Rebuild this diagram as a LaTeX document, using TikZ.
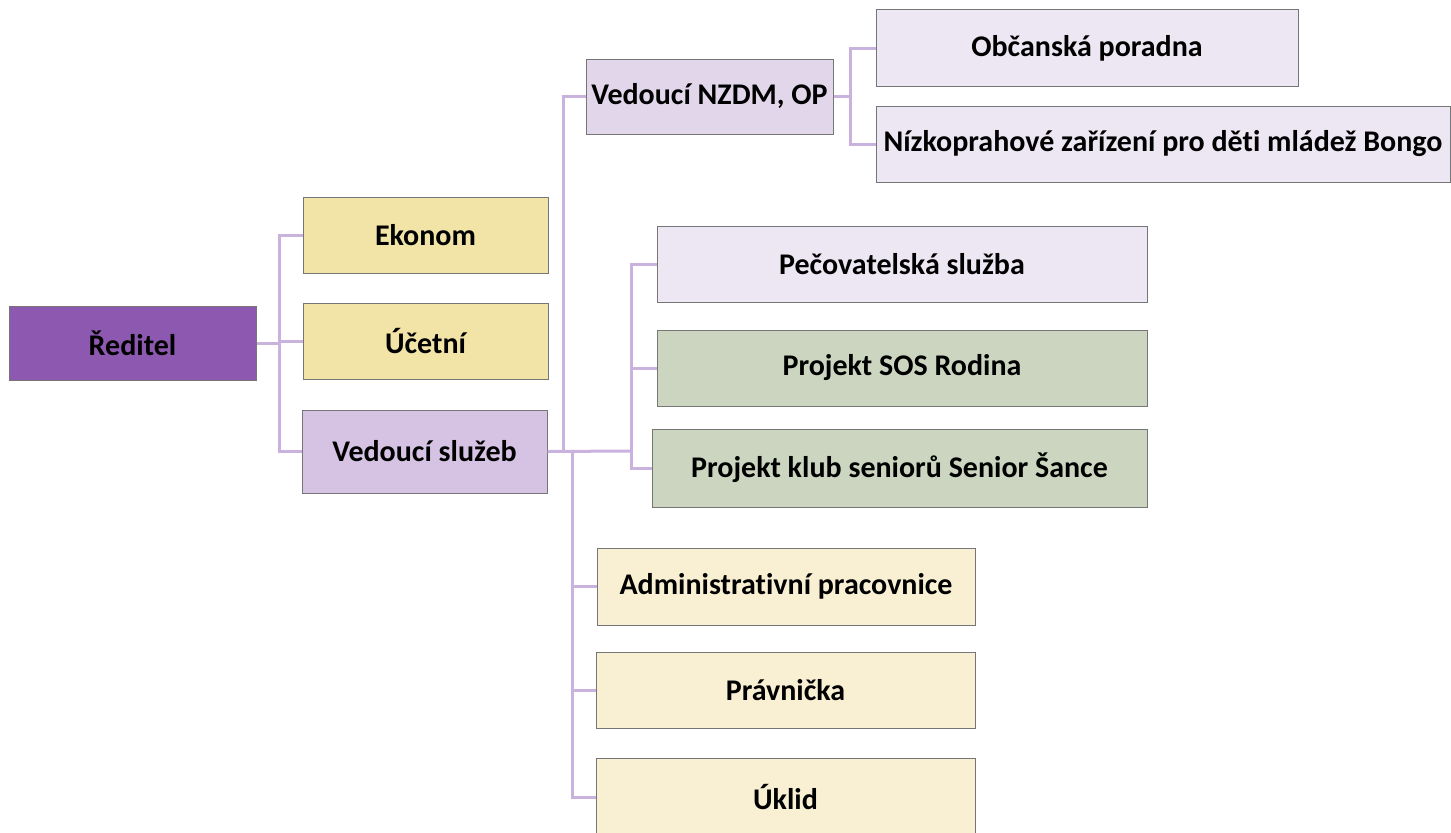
\documentclass[tikz,border=0pt]{standalone}
\usepackage{fontspec}
\setmainfont{Carlito}[Ligatures=NoCommon]

\tikzset{every picture/.style={line width=0.75pt}}
\tikzset{
  box/.style={draw={rgb, 255:red, 118; green, 118; blue, 118 }, line width=0.75pt, align=center, inner sep=0pt, font=\fontsize{22.5}{27}\selectfont\bfseries},
  link/.style={draw={rgb, 255:red, 202; green, 178; blue, 222 }, line width=2.25pt},
  std/.style={box, minimum width=183.75pt, minimum height=57pt}
}

\begin{document}
\begin{tikzpicture}[x=0.75pt,y=0.75pt,yscale=-1,xscale=1]
\useasboundingbox (0,0) rectangle (1451,832);

%Shape: Rectangle [id:reditel]
\node (dir) at (132.5,343) [box, minimum width=185.25pt, minimum height=55.5pt, fill={rgb, 255:red, 141; green, 88; blue, 176 }] {Ředitel};
%Shape: Rectangle [id:ekonom]
\node (ekon) at (425.5,235) [std, fill={rgb, 255:red, 242; green, 227; blue, 167 }] {Ekonom};
%Shape: Rectangle [id:ucetni]
\node (ucet) at (425.5,341) [std, fill={rgb, 255:red, 242; green, 227; blue, 167 }] {Účetní};
%Shape: Rectangle [id:vedsluzeb]
\node (vsl) at (424.5,451.5) [box, minimum width=183.75pt, minimum height=62.25pt, fill={rgb, 255:red, 214; green, 194; blue, 227 }] {Vedoucí služeb};

%Shape: Rectangle [id:nzdm]
\node (nzdm) at (709.5,96.5) [box, minimum width=185.25pt, minimum height=56.25pt, fill={rgb, 255:red, 226; green, 214; blue, 235 }] {Vedoucí NZDM, OP};
%Shape: Rectangle [id:obcan]
\node (obcan) at (1087,48) [box, minimum width=316.5pt, minimum height=57.75pt, fill={rgb, 255:red, 237; green, 231; blue, 243 }] {Občanská poradna};
%Shape: Rectangle [id:nizko]
\node (nizko) at (1163,144) [box, minimum width=430.5pt, minimum height=57pt, fill={rgb, 255:red, 237; green, 231; blue, 243 }] {Nízkoprahové zařízení pro děti mládež Bongo};

%Shape: Rectangle [id:pecov]
\node (pecov) at (902,264) [box, minimum width=367.5pt, minimum height=57pt, fill={rgb, 255:red, 237; green, 231; blue, 243 }] {Pečovatelská služba};
%Shape: Rectangle [id:sos]
\node (sos) at (902,368) [box, minimum width=367.5pt, minimum height=57pt, fill={rgb, 255:red, 203; green, 213; blue, 191 }] {Projekt SOS Rodina};
%Shape: Rectangle [id:senior]
\node (senior) at (899.5,468) [box, minimum width=371.25pt, minimum height=58.5pt, fill={rgb, 255:red, 203; green, 213; blue, 191 }] {Projekt klub seniorů Senior Šance};

%Shape: Rectangle [id:admin]
\node (admin) at (786,586.5) [box, minimum width=283.5pt, minimum height=57.75pt, fill={rgb, 255:red, 249; green, 240; blue, 211 }] {Administrativní pracovnice};
%Shape: Rectangle [id:pravn]
\node (pravn) at (785.5,690) [box, minimum width=284.25pt, minimum height=57pt, fill={rgb, 255:red, 249; green, 240; blue, 211 }] {Právnička};
%Shape: Rectangle [id:uklid]
\node (uklid) at (785.5,797) [box, minimum width=284.25pt, minimum height=57.75pt, fill={rgb, 255:red, 249; green, 240; blue, 211 }] {Úklid};

% Connectors
\coordinate (j1) at (279,343);
\coordinate (j2) at (563,451);
\coordinate (j3) at (572,451);
\coordinate (j4) at (631,451);
\coordinate (j5) at (850,96.5);

\draw [link] (dir.east) -- (j1);
\draw [link] (j1) |- (ekon.west);
\draw [link] (j1) |- (ucet.west);
\draw [link] (j1) |- (vsl.west);

\draw [link] (vsl.east) -- (j4);
\draw [link] (j2) |- (nzdm.west);
\draw [link] (j3) |- (admin.west);
\draw [link] (j3) |- (pravn.west);
\draw [link] (j3) |- (uklid.west);
\draw [link] (j4) |- (pecov.west);
\draw [link] (j4) |- (sos.west);
\draw [link] (j4) |- (senior.west);

\draw [link] (nzdm.east) -- (j5);
\draw [link] (j5) |- (obcan.west);
\draw [link] (j5) |- (nizko.west);

\end{tikzpicture}
\end{document}
